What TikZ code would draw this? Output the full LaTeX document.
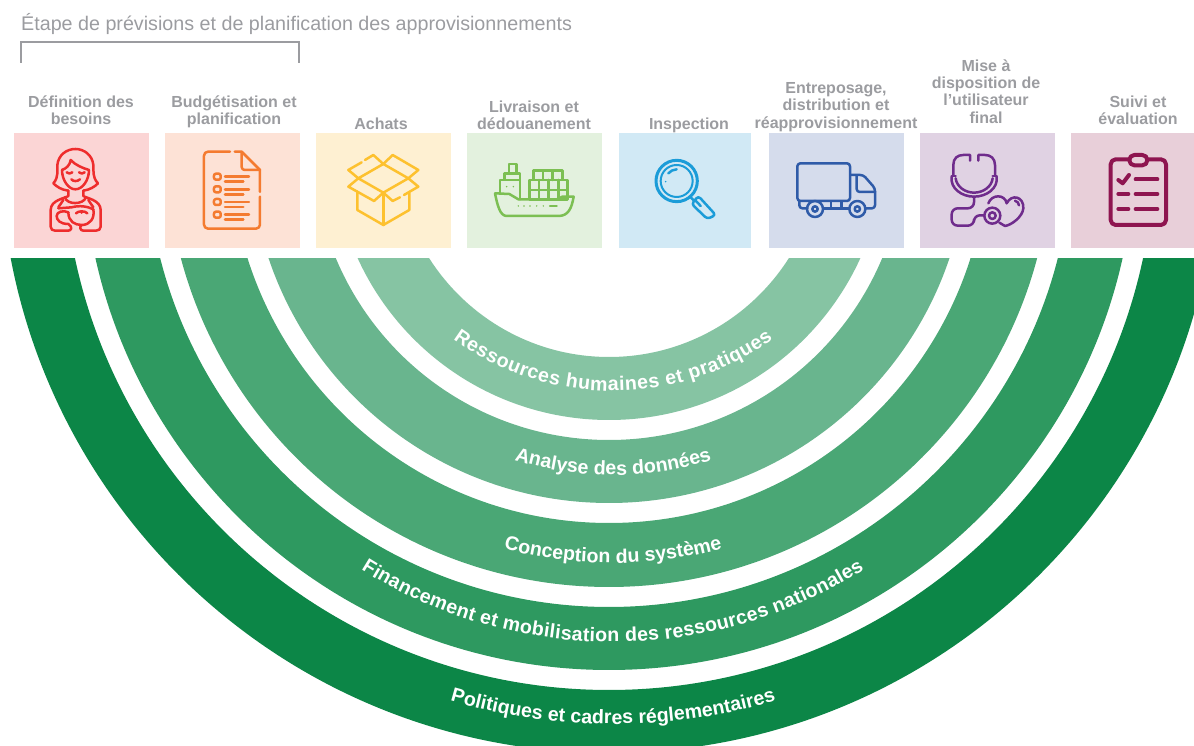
\documentclass[tikz,border=0pt]{standalone}
\usepackage{fontspec}
\setmainfont{Liberation Sans}
\usetikzlibrary{decorations.text}

\definecolor{greytext}{HTML}{9B9CA0}
\definecolor{boxa}{HTML}{FBD5D5}
\definecolor{boxb}{HTML}{FDE2D6}
\definecolor{boxc}{HTML}{FEF0D2}
\definecolor{boxd}{HTML}{E3F1DE}
\definecolor{boxe}{HTML}{D1E9F5}
\definecolor{boxf}{HTML}{D5DCEC}
\definecolor{boxg}{HTML}{E0D2E3}
\definecolor{boxh}{HTML}{E8CFD9}
\definecolor{icona}{HTML}{EE2D2D}
\definecolor{iconb}{HTML}{F47B30}
\definecolor{iconc}{HTML}{FDC12F}
\definecolor{icond}{HTML}{7CBF53}
\definecolor{icone}{HTML}{1B9CD8}
\definecolor{iconf}{HTML}{2F5BA8}
\definecolor{icong}{HTML}{6F2C8C}
\definecolor{iconh}{HTML}{8E1550}
\definecolor{ringa}{HTML}{86C4A3}
\definecolor{ringb}{HTML}{69B58E}
\definecolor{ringc}{HTML}{4AA775}
\definecolor{ringd}{HTML}{2E9960}
\definecolor{ringe}{HTML}{0C8647}

\newcommand{\ringfont}{\color{white}\bfseries\fontsize{19.6}{20}\selectfont}

\tikzset{
    stagebox/.style={inner sep=0pt, minimum height=115pt},
    stagelabel/.style={inner sep=0pt, align=center, text=greytext, font=\bfseries\fontsize{16}{17.3}\selectfont},
    bracketline/.style={draw=greytext, line width=2pt},
    iconline/.style={line width=2.5pt, line cap=round, line join=round},
    icongrid/.style 2 args={shift={(#1,746-#2)}, xscale=1/3, yscale=-1/3},
    ringtext/.style={decorate, decoration={text along path, text align=center}},
    ringfit/.style={decorate, decoration={text along path, text align=fit to path}}
}

\begin{document}
\begin{tikzpicture}[x=1pt,y=1pt]
    \useasboundingbox (0,0) rectangle (1194,746);

    \node[anchor=west, inner sep=0pt, text=greytext, font=\fontsize{19.7}{22}\selectfont] (title) at (21,722)
        {Étape de prévisions et de planification des approvisionnements};
    \coordinate (bracketa) at (21,683);
    \coordinate (bracketb) at (299,683);
    \draw[bracketline] (bracketa) -- ++(0,21) -| (bracketb);

    % coloured boxes
    \foreach \n/\xa/\xb/\c in {a/14/149/boxa, b/165/300/boxb, c/316/451/boxc, d/467/602/boxd,
                               e/619/751/boxe, f/769/904/boxf, g/920/1055/boxg, h/1071/1194/boxh} {
        \node[stagebox, fill=\c, minimum width={\xb-\xa}] (box\n) at ({(\xa+\xb)/2},555.5) {};
    }

    \node[stagelabel] (labela) at (81,635.5)   {Définition des\\besoins};
    \node[stagelabel] (labelb) at (234,634.5)  {Budgétisation et\\planification};
    \node[stagelabel] (labelc) at (381,622)    {Achats};
    \node[stagelabel] (labeld) at (534,630.5)  {Livraison et\\dédouanement};
    \node[stagelabel] (labele) at (689,621)    {Inspection};
    \node[stagelabel] (labelf) at (836,639)    {Entreposage,\\distribution et\\réapprovisionnement};
    \node[stagelabel] (labelg) at (986,654.5)  {Mise à\\disposition de\\l’utilisateur\\final};
    \node[stagelabel] (labelh) at (1138,635.5) {Suivi et\\évaluation};

    % woman
    \begin{scope}[icongrid={0}{0}, iconline, draw=icona]
        \draw (205,572) .. controls (185,570) and (170,560) .. (160,550) .. controls (178,530) and (170,510) .. (172,495)
              .. controls (175,465) and (200,447) .. (226,447) .. controls (252,447) and (277,465) .. (280,495)
              .. controls (282,510) and (275,530) .. (294,550) .. controls (285,560) and (268,570) .. (250,572);
        \draw (186,510) .. controls (200,505) and (210,495) .. (212,480) .. controls (225,495) and (250,505) .. (267,510);
        \draw (186,510) .. controls (186,540) and (205,568) .. (226,568) .. controls (248,568) and (267,540) .. (267,510);
        \draw (200,517) .. controls (205,522) and (212,522) .. (217,517);
        \draw (237,517) .. controls (242,522) and (249,522) .. (254,517);
        \draw (214,538) .. controls (220,545) and (232,545) .. (240,538);
        \draw (205,572) -- (205,588) .. controls (195,595) and (152,600) .. (152,630) -- (152,680)
              .. controls (152,688) and (158,692) .. (165,692) -- (205,692) .. controls (215,692) and (218,680) .. (205,672)
              .. controls (180,672) and (170,660) .. (170,648) .. controls (170,635) and (190,630) .. (205,637);
        \draw (250,572) -- (250,588) .. controls (260,595) and (302,600) .. (302,630) -- (302,680)
              .. controls (302,688) and (296,692) .. (288,692) -- (250,692) .. controls (240,692) and (238,680) .. (245,675);
        \draw (195,592) .. controls (200,615) and (250,615) .. (258,592);
        \draw (175,622) -- (190,600) (280,622) -- (265,600);
        \draw (175,625) -- (215,622) .. controls (240,615) and (265,620) .. (280,628);
        \draw (205,637) .. controls (205,665) and (225,675) .. (245,675) .. controls (270,675) and (285,655) .. (280,628);
        \draw (228,640) .. controls (235,632) and (255,632) .. (262,640);
        \fill[icona] (245,638) circle (4);
    \end{scope}

    % document
    \begin{scope}[icongrid={0}{0}, iconline, draw=iconb]
        \draw[rounded corners=4pt] (690,455) -- (612,455) -- (612,686) -- (780,686) -- (780,590);
        \draw (780,576) -- (780,510) -- (725,455) -- (704,455);
        \draw[rounded corners=3pt] (725,458) -- (725,510) -- (780,510);
        \foreach \y in {530,568,606,644} {
            \draw[rounded corners=2pt] (642,\y-9) rectangle (662,\y+9);
            \draw (675,\y) -- (747,\y) (675,\y+15) -- (730,\y+15);
        }
    \end{scope}

    % open box
    \begin{scope}[icongrid={0}{0}, iconline, draw=iconc]
        \draw (1150,492) -- (1225,535) -- (1150,578) -- (1075,535) -- cycle;
        \draw (1150,492) -- (1120,465) -- (1095,480) (1085,487) -- (1045,510) -- (1075,535);
        \draw (1150,492) -- (1178,465) -- (1255,510) -- (1225,535);
        \draw (1075,535) -- (1045,560) -- (1122,603) -- (1150,578);
        \draw (1225,535) -- (1255,560) -- (1212,585) (1200,592) -- (1178,603) -- (1150,578);
        \draw (1072,575) -- (1072,630) -- (1150,675) -- (1228,630) -- (1228,580);
        \draw (1150,578) -- (1150,675);
    \end{scope}

    % ship
    \begin{scope}[icongrid={450}{90}, iconline, draw=icond]
        \draw (177,250) rectangle (200,222);
        \draw (163,270) rectangle (210,250);
        \draw (150,310) -- (150,270) -- (210,270) -- (210,328);
        \fill[icond] (170,290) circle (2.5) (190,290) circle (2.5);
        \draw (250,270) rectangle (337,242);
        \draw (279,242) -- (279,270) (308,242) -- (308,270);
        \draw (238,328) rectangle (353,270);
        \draw (238,300) -- (353,300);
        \foreach \x in {267,296,325} {\draw (\x,270) -- (\x,328);}
        \draw (135,310) -- (178,312) -- (205,328) -- (320,328) -- (337,320) -- (371,320)
              .. controls (365,355) and (355,378) .. (325,378) -- (170,378) .. controls (150,378) and (142,345) .. (135,310);
        \foreach \x in {205,222,240,260,280} {\fill[icond] (\x,348) circle (2.5);}
        \draw (300,348) -- (320,348);
    \end{scope}

    % magnifier
    \begin{scope}[icongrid={450}{90}, iconline, draw=icone]
        \draw[line width=3pt] (680,273) circle (62);
        \draw[line width=2pt] (680,273) circle (48);
        \draw (655,250) .. controls (662,242) and (670,239) .. (680,238);
        \fill[icone] (647,275) circle (2.5);
        \draw (720,320) -- (733,333);
        \draw[rounded corners=3pt] (745,318) -- (725,342) -- (772,387) -- (797,375) -- cycle;
        \draw (735,330) -- (752,348);
    \end{scope}

    % truck
    \begin{scope}[icongrid={750}{40}, iconline, draw=iconf]
        \draw[rounded corners=3pt] (142,370) rectangle (300,483);
        \draw[rounded corners=3pt] (303,405) -- (340,405) -- (375,445) -- (375,505) -- (346,505);
        \draw[rounded corners=3pt] (320,408) -- (320,456) -- (375,456);
        \draw[rounded corners=3pt] (148,483) -- (148,505) -- (172,505);
        \draw (220,505) -- (297,505) (243,485) -- (243,505) (275,485) -- (275,505);
        \draw (195,507) circle (24) (195,507) circle (8);
        \draw (322,507) circle (24) (322,507) circle (8);
    \end{scope}

    % stethoscope
    \begin{scope}[icongrid={750}{40}, iconline, draw=icong]
        \draw (660,362) -- (660,345) -- (640,345) .. controls (622,345) and (610,355) .. (610,375) -- (610,405);
        \draw (685,362) -- (685,345) -- (705,345) .. controls (722,345) and (735,355) .. (735,375) -- (735,405);
        \draw (605,410) .. controls (600,445) and (635,470) .. (672,470) .. controls (710,470) and (745,445) .. (740,410);
        \draw (617,415) .. controls (620,440) and (645,458) .. (672,458) .. controls (700,458) and (725,440) .. (728,415);
        \draw (605,408) -- (617,408) (728,408) -- (740,408);
        \draw[rounded corners=6pt] (672,470) -- (672,505) -- (605,505) -- (605,557) -- (672,557) -- (672,526) -- (703,526);
        \draw (727,527) circle (24) (727,527) circle (10);
        \draw (715,490) .. controls (725,462) and (765,462) .. (770,490) .. controls (785,460) and (822,470) .. (820,505)
              .. controls (818,530) and (785,555) .. (765,558) -- (748,548);
        \draw (795,482) .. controls (803,484) and (806,490) .. (807,496);
    \end{scope}

    % clipboard
    \begin{scope}[icongrid={750}{40}, iconline, draw=iconh, line width=4pt]
        \draw[rounded corners=5pt] (1082,358) rectangle (1248,555);
        \draw[fill=boxh, rounded corners=5pt] (1138,345) rectangle (1192,376);
        \draw (1105,420) -- (1118,430) -- (1137,405);
        \draw (1157,418) -- (1222,418) (1105,462) -- (1135,462) (1157,462) -- (1222,462);
        \draw (1105,507) -- (1135,507) (1157,507) -- (1222,507);
    \end{scope}

    % rings, outermost first
    \begin{scope}
        \clip (0,0) rectangle (1194,487.7);
        \foreach \ro/\ri/\c in {609/546/ringe, 526/463/ringd, 443/379/ringc, 359/296/ringb, 276/213/ringa} {
            \fill[\c, even odd rule] (609,602) circle (\ro) (609,602) circle (\ri);
        }
    \end{scope}

    \path[ringfit, decoration={text={|\ringfont|Ressources humaines et pratiques}}]
        (613,627) ++(234:272) arc (234:306:272);
    \path[ringtext, decoration={text={|\ringfont|Analyse des données}}]
        (613,602) ++(230:331) arc (230:310:331);
    \path[ringtext, decoration={text={|\ringfont|Conception du système}}]
        (613,602) ++(230:419) arc (230:310:419);
    \path[ringfit, decoration={text={|\ringfont|Financement et mobilisation des ressources nationales}}]
        (612.5,577) ++(237.9:473) arc (237.9:302.1:473);
    \path[ringtext, decoration={text={|\ringfont|Politiques et cadres réglementaires}}]
        (613,602) ++(240:580) arc (240:300:580);
\end{tikzpicture}
\end{document}
